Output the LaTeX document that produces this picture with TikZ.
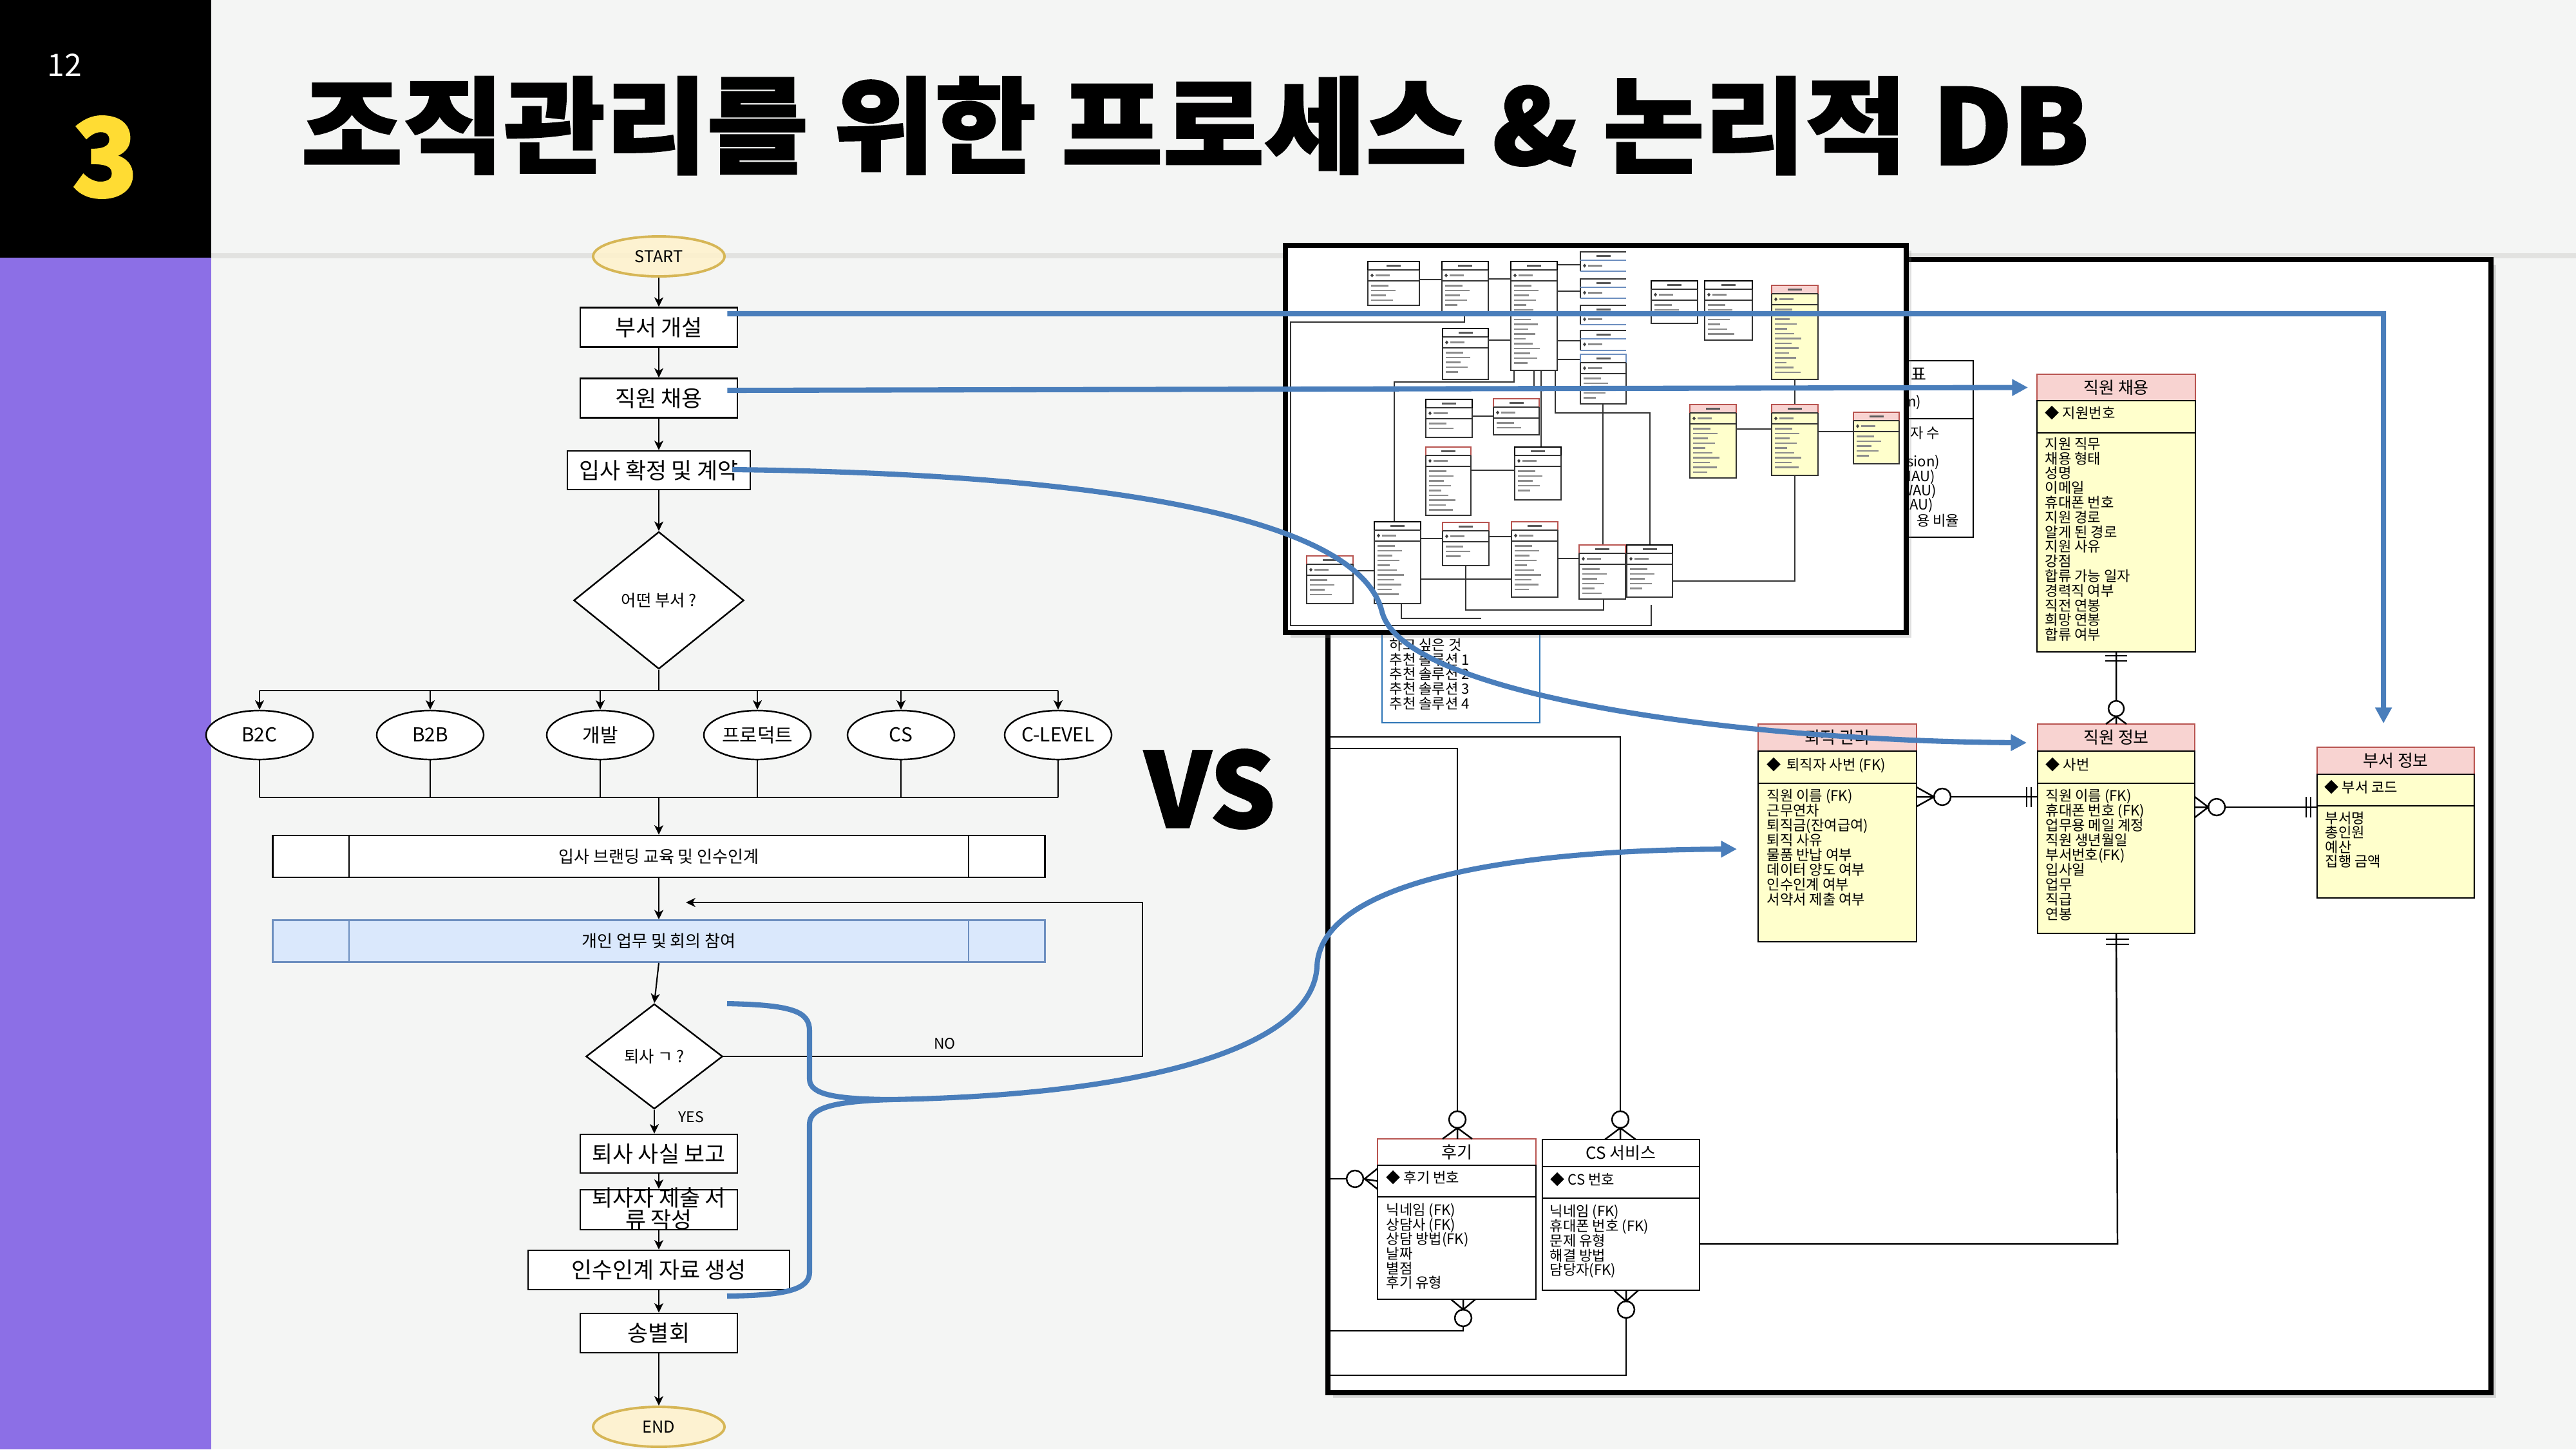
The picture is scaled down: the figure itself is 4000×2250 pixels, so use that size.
\documentclass[tikz,border=0pt]{standalone}
\usepackage{fontspec}
\usepackage{graphicx}
\usetikzlibrary{shapes.geometric,arrows.meta,shadows,calc}
\newfontfamily\kr{Noto Sans CJK KR}
\newfontfamily\krheavy{Noto Sans CJK KR}[FakeBold=1.6]
\definecolor{bg}{HTML}{F4F5F4}
\definecolor{purp}{HTML}{8C6FE6}
\definecolor{yel}{HTML}{FFDC33}
\definecolor{divgray}{HTML}{E2E2E0}
\definecolor{bluearr}{HTML}{4A7EBB}
\definecolor{dioyf}{HTML}{FFF2CC}
\definecolor{dioyd}{HTML}{D6B656}
\definecolor{diobf}{HTML}{DAE8FC}
\definecolor{diobd}{HTML}{6C8EBF}
\definecolor{erdpink}{HTML}{F8D3D1}
\definecolor{erdred}{HTML}{B85450}
\definecolor{erdyel}{HTML}{FFFFCC}
\definecolor{boxblue}{HTML}{2E75B6}
\newcommand\pxf[1]{\fontsize{#1}{#1}\selectfont}

\tikzset{
  fline/.style={line width=0.6pt},
  farr/.style={line width=0.6pt,-{Stealth[length=4.2pt,width=4pt,inset=1.2pt]}},
  fbox/.style={draw,line width=0.7pt,fill=white,inner sep=0pt,minimum width=2.44cm,minimum height=0.61cm,font={\kr\pxf{9.9pt}}},
  oval/.style={ellipse,draw,line width=0.7pt,fill=white,inner sep=0pt,minimum width=1.66cm,minimum height=0.76cm,font={\kr\pxf{8.5pt}}},
  term/.style={ellipse,draw=dioyd,line width=1.1pt,fill=dioyf,fill opacity=0.85,text opacity=1,inner sep=0pt,minimum width=2.04cm,minimum height=0.62cm,font={\kr\pxf{7.2pt}}},
  dec/.style={diamond,draw,line width=0.7pt,fill=white,inner sep=0pt,font={\kr\pxf{7.2pt}}},
  pbox/.style={draw,line width=0.7pt,inner sep=0pt,minimum width=11.98cm,minimum height=0.65cm,font={\kr\pxf{7.4pt}}},
  lbl/.style={inner sep=0pt,font={\kr\pxf{6.5pt}}},
  ebox/.style={draw,line width=0.7pt,anchor=north west,inner sep=0pt,outer sep=0pt},
  ehd/.style={ebox,font={\kr\pxf{7.4pt}}},
  attr/.style={anchor=west,inner sep=0pt,font={\kr\pxf{6.3pt}},text height=5pt,text depth=1.4pt},
  el/.style={line width=0.7pt},
  blarr/.style={draw=bluearr,line width=2.3pt,-{Triangle[length=7pt,width=7pt]}},
  blline/.style={draw=bluearr,line width=2.3pt},
  mline/.style={line width=0.4pt,draw=black!80},
  mtxt/.style={line width=0.6pt,draw=black!45},
}

% mini entity: x1 y1 x2 y2 headerfill bodyfill headerdraw
\newcommand\erdmini[7]{%
  \fill[#6] (#1,#2) rectangle (#3,#4);
  \fill[#5] (#1,#2) rectangle (#3,#2+13);
  \draw[mline] (#1,#2) rectangle (#3,#4);
  \draw[mline,draw=#7] (#1,#2+13) -- (#1,#2) -- (#3,#2) -- (#3,#2+13);
  \draw[mline] (#1,#2+13) -- (#3,#2+13) (#1,#2+30) -- (#3,#2+30);
  \draw[mtxt,draw=black!65] ({(#1+#3)/2-11},#2+6.5) -- ({(#1+#3)/2+11},#2+6.5);
  \fill[black!75] (#1+4,#2+21.5) -- (#1+6.5,#2+18.5) -- (#1+9,#2+21.5) -- (#1+6.5,#2+24.5) -- cycle;
  \draw[mtxt] (#1+12,#2+21.5) -- (#1+34,#2+21.5);
  \pgfmathtruncatemacro\mnr{(#4-#2-38)/7.5}%
  \ifnum\mnr>0
    \foreach \k in {1,...,\mnr}{%
      \pgfmathsetmacro\mlen{16+mod(\k*11,26)}%
      \draw[mtxt] (#1+5,{#2+30+7.5*\k}) -- ++(\mlen,0);}%
  \fi
}
% mini blue-lined box: x1 y1 x2 y2
\newcommand\erdminiblue[4]{%
  \fill[white] (#1,#2) rectangle (#3,#4);
  \draw[mline] (#1,#4) -- (#1,#2) -- (#3,#2);
  \draw[mline,draw=diobd] (#1,#2+13) -- (#3,#2+13) (#1,#4) -- (#3,#4);
  \draw[mtxt,draw=black!65] ({(#1+#3)/2-11},#2+6.5) -- ({(#1+#3)/2+11},#2+6.5);
  \fill[black!75] (#1+4,#2+21.5) -- (#1+6.5,#2+18.5) -- (#1+9,#2+21.5) -- (#1+6.5,#2+24.5) -- cycle;
  \draw[mtxt] (#1+12,#2+21.5) -- (#1+34,#2+21.5);
}

\begin{document}
\begin{tikzpicture}[x=0.01cm,y=-0.01cm]
\useasboundingbox (0,0) rectangle (4000,2250);
% ---------- slide background ----------
\fill[bg] (0,0) rectangle (4000,2250);
\fill[black] (0,0) rectangle (328,400);
\fill[purp] (0,400) rectangle (328,2250);
\fill[divgray] (328,393) rectangle (4000,401);
\node[text=white,inner sep=0pt,font={\kr\pxf{13.7pt}}] (pnum) at (100,101) {12};
\node[text=yel,inner sep=0pt,font={\krheavy\bfseries\pxf{48pt}}] (snum) at (163,244) {3};
\node[anchor=west,inner sep=0pt,font={\krheavy\bfseries\pxf{46pt}}] (title) at (467,195)
  {\scalebox{1.058}[1]{조직관리를 위한 프로세스 \& 논리적 DB}};

% ---------- flowchart ----------
\node[term] (start) at (1023,398) {START};
\node[fbox] (b1) at (1023,508) {부서 개설};
\node[fbox] (b2) at (1023,618) {직원 채용};
\node[fbox,minimum width=2.84cm,minimum height=0.60cm] (b3) at (1023,730) {입사 확정 및 계약};
\node[dec,minimum width=2.64cm,minimum height=2.13cm] (d1) at (1023,932) {어떤 부서 ?};
\node[oval] (e1) at (403,1141) {B2C};
\node[oval] (e2) at (668,1141) {B2B};
\node[oval] (e3) at (932,1141) {개발};
\node[oval] (e4) at (1176,1141) {프로덕트};
\node[oval] (e5) at (1399,1141) {CS};
\node[oval] (e6) at (1643,1141) {C-LEVEL};
\coordinate (br) at (1023,1072);
\coordinate (mg) at (1023,1238);
\node[pbox,fill=white] (p1) at (1023,1329.5) {입사 브랜딩 교육 및 인수인계};
\node[pbox,fill=diobf,draw=diobd] (p2) at (1023,1461) {개인 업무 및 회의 참여};
\draw[fline] ($(p1.north west)+(120,0)$) -- ($(p1.south west)+(120,0)$);
\draw[fline] ($(p1.north east)+(-120,0)$) -- ($(p1.south east)+(-120,0)$);
\draw[fline,draw=diobd] ($(p2.north west)+(120,0)$) -- ($(p2.south west)+(120,0)$);
\draw[fline,draw=diobd] ($(p2.north east)+(-120,0)$) -- ($(p2.south east)+(-120,0)$);
\node[dec,minimum width=2.12cm,minimum height=1.63cm] (d2) at (1016,1640) {퇴사 ㄱ ?};
\node[fbox,minimum height=0.60cm] (b4) at (1023,1791) {퇴사 사실 보고};
\node[fbox,minimum height=0.62cm] (b5) at (1023,1878) {};
\node[inner sep=0pt,align=center,font={\kr\fontsize{9.9pt}{9.7pt}\selectfont}] (b5t) at (1023,1876) {퇴사자 제출 서\\류 작성};
\node[fbox,minimum width=4.06cm] (b6) at (1023,1971.5) {인수인계 자료 생성};
\node[fbox] (b7) at (1023,2069.5) {송별회};
\node[term] (end) at (1023,2215) {END};

\draw[farr] (start) -- (b1);
\draw[farr] (b1) -- (b2);
\draw[farr] (b2) -- (b3);
\draw[farr] (b3) -- (d1);
\draw[fline] (d1.south) -- (br);
\draw[fline] (e1 |- br) -- (e6 |- br);
\foreach \e in {e1,e2,e3,e4,e5,e6}{
  \draw[farr] (\e |- br) -- (\e.north);
  \draw[fline] (\e.south) -- (\e |- mg);
}
\draw[fline] (e1 |- mg) -- (e6 |- mg);
\draw[farr] (mg) -- (p1.north);
\draw[farr] (p1.south) -- (p2.north);
\draw[farr] (p2.south) -- (d2.north);
\coordinate (lpA) at (1774,1640);
\coordinate (lpB) at (1774,1401);
\coordinate (lpE) at (1065,1401);
\draw[farr] (d2.east) -- (lpA) -- (lpB) -- (lpE);
\node[lbl] (nolbl) at (1467,1620) {NO};
\draw[farr] (d2.south) -- (d2.south |- b4.north);
\node[lbl] (yeslbl) at (1073,1734) {YES};
\draw[farr] (b4) -- (b5);
\draw[farr] (b5) -- (b6);
\draw[farr] (b6) -- (b7);
\draw[farr] (b7) -- (end);

% ---------- VS ----------
\node[inner sep=0pt,font={\krheavy\bfseries\pxf{45.5pt}}] (vs) at (1879,1225) {VS};

% ---------- big ERD frame ----------
\filldraw[fill=white,draw=black,line width=2.3pt,drop shadow={opacity=0.25,shadow xshift=0.08cm,shadow yshift=-0.08cm}] (2062,403) rectangle (3868,2162);

% partially hidden statistics box
\filldraw[fill=white,el] (2900,560) rectangle (3064,834);
\draw[el] (2900,650) -- (3064,650);
\node[anchor=east,inner sep=0pt,font={\kr\pxf{7.4pt}}] (st1) at (2992,581) {표};
\node[anchor=east,inner sep=0pt,font={\kr\pxf{6.3pt}}] (st2) at (2984,625) {m)};
\node[anchor=east,inner sep=0pt,font={\kr\pxf{6.3pt}}] (st3) at (3013,672) {자 수};
\node[anchor=east,inner sep=0pt,font={\kr\pxf{6.3pt}}] (st4) at (3013,718) {sion)};
\node[anchor=east,inner sep=0pt,font={\kr\pxf{6.3pt}}] (st5) at (3006,741) {MAU)};
\node[anchor=east,inner sep=0pt,font={\kr\pxf{6.3pt}}] (st6) at (3008,763) {WAU)};
\node[anchor=east,inner sep=0pt,font={\kr\pxf{6.3pt}}] (st7) at (3003,785) {DAU)};
\node[anchor=east,inner sep=0pt,font={\kr\pxf{6.3pt}}] (st8) at (3043,808) {용 비율};

% recommendation box (top hidden)
\draw[draw=boxblue,line width=0.5pt] (2146,930) rectangle (2391,1122);
\foreach \txt [count=\i] in {하고 싶은 것,추천 솔루션 1,추천 솔루션 2,추천 솔루션 3,추천 솔루션 4}
  \node[attr] at (2157,{1003+22.8*(\i-1)}) {\txt};

% connector lines from the left edge
\draw[el] (2066,1144) -- (2516,1144) -- (2516,1725);
\draw[el] (2066,1162) -- (2263,1162) -- (2263,1725);

% 직원 채용
\node[ehd,fill=erdpink,draw=erdred,minimum width=2.46cm,minimum height=0.41cm] (jcH) at (3163,581) {직원 채용};
\node[ebox,fill=erdyel,minimum width=2.46cm,minimum height=0.50cm] (jcK) at (3163,622) {};
\node[ebox,fill=erdyel,minimum width=2.46cm,minimum height=3.40cm] (jcB) at (3163,672) {};
\node[attr] (jcPK) at (3175,643) {◆ 지원번호};
\foreach \txt [count=\i] in {지원 직무,채용 형태,성명,이메일,휴대폰 번호,지원 경로,알게 된 경로,지원 사유,강점,합류 가능 일자,경력직 여부,직전 연봉,희망 연봉,합류 여부}
  \node[attr] at (3175,{691+22.8*(\i-1)}) {\txt};

% 퇴직 관리
\node[ehd,fill=erdpink,draw=erdred,minimum width=2.46cm,minimum height=0.42cm] (tjH) at (2730,1124) {퇴직 관리};
\node[ebox,fill=erdyel,minimum width=2.46cm,minimum height=0.50cm] (tjK) at (2730,1166) {};
\node[ebox,fill=erdyel,minimum width=2.46cm,minimum height=2.46cm] (tjB) at (2730,1216) {};
\node[attr] (tjPK) at (2743,1189) {◆\, 퇴직자 사번 (FK)};
\foreach \txt [count=\i] in {직원 이름 (FK),근무연차,퇴직금(잔여급여),퇴직 사유,물품 반납 여부,데이터 양도 여부,인수인계 여부,서약서 제출 여부}
  \node[attr] at (2743,{1237+23*(\i-1)}) {\txt};

% 직원 정보
\node[ehd,fill=erdpink,draw=erdred,minimum width=2.44cm,minimum height=0.42cm] (jiH) at (3164,1124) {직원 정보};
\node[ebox,fill=erdyel,minimum width=2.44cm,minimum height=0.50cm] (jiK) at (3164,1166) {};
\node[ebox,fill=erdyel,minimum width=2.44cm,minimum height=2.33cm] (jiB) at (3164,1216) {};
\node[attr] (jiPK) at (3176,1189) {◆ 사번};
\foreach \txt [count=\i] in {직원 이름 (FK),휴대폰 번호 (FK),업무용 메일 계정,직원 생년월일,부서번호(FK),입사일,업무,직급,연봉}
  \node[attr] at (3176,{1237+23*(\i-1)}) {\txt};

% 부서 정보
\node[ehd,fill=erdpink,draw=erdred,minimum width=2.44cm,minimum height=0.42cm] (bsH) at (3598,1160) {부서 정보};
\node[ebox,fill=erdyel,minimum width=2.44cm,minimum height=0.49cm] (bsK) at (3598,1202) {};
\node[ebox,fill=erdyel,minimum width=2.44cm,minimum height=1.43cm] (bsB) at (3598,1251) {};
\node[attr] (bsPK) at (3609,1224) {◆ 부서 코드};
\foreach \txt [count=\i] in {부서명,총인원,예산,집행 금액}
  \node[attr] at (3610,{1272+22.5*(\i-1)}) {\txt};

% 후기
\node[ehd,fill=white,draw=erdred,minimum width=2.46cm,minimum height=0.41cm] (hgH) at (2139,1768) {후기};
\node[ebox,fill=white,minimum width=2.46cm,minimum height=0.49cm] (hgK) at (2139,1809) {};
\node[ebox,fill=white,minimum width=2.46cm,minimum height=1.59cm] (hgB) at (2139,1858) {};
\node[attr] (hgPK) at (2152,1830) {◆ 후기 번호};
\foreach \txt [count=\i] in {닉네임 (FK),상담사 (FK),상담 방법(FK),날짜,별점,후기 유형}
  \node[attr] at (2152,{1880+22.7*(\i-1)}) {\txt};

% CS 서비스
\node[ehd,fill=white,minimum width=2.44cm,minimum height=0.42cm] (csH) at (2395,1769) {CS 서비스};
\node[ebox,fill=white,minimum width=2.44cm,minimum height=0.49cm] (csK) at (2395,1811) {};
\node[ebox,fill=white,minimum width=2.44cm,minimum height=1.43cm] (csB) at (2395,1860) {};
\node[attr] (csPK) at (2407,1833) {◆ CS 번호};
\foreach \txt [count=\i] in {닉네임 (FK),휴대폰 번호 (FK),문제 유형,해결 방법,담당자(FK)}
  \node[attr] at (2406,{1882+22.9*(\i-1)}) {\txt};

% ERD relationship symbols
% 후기 top
\draw[el] (2263,1738) circle[radius=0.13cm];
\draw[el] (2263,1751) -- (2263,1768) (2240,1768) -- (2263,1751) -- (2286,1768);
% CS top
\draw[el] (2516,1738) circle[radius=0.13cm];
\draw[el] (2516,1751) -- (2516,1769) (2492,1769) -- (2516,1751) -- (2540,1769);
% 후기 left
\draw[el] (2066,1830) -- (2091,1830);
\draw[el] (2104,1830) circle[radius=0.13cm];
\draw[el] (2117,1830) -- (hgK.west) (2139,1814) -- (2119,1830) -- (2139,1846);
% 후기 bottom
\draw[el] (2253,2017) -- (2272,2033) -- (2291,2017) (2272,2017) -- (2272,2033);
\draw[el] (2272,2046) circle[radius=0.13cm];
\draw[el] (2272,2059) -- (2272,2066) -- (2066,2066);
% CS bottom
\draw[el] (2506,2003) -- (2525,2020) -- (2544,2003) (2525,2003) -- (2525,2020);
\draw[el] (2525,2033) circle[radius=0.13cm];
\draw[el] (2525,2046) -- (2525,2135) -- (2066,2135);
% CS -> 직원 정보
\draw[el] (2639,1931) -- (3288,1931) -- (jiB.south);
\draw[el] (3270,1458) -- (3306,1458) (3270,1466) -- (3306,1466);
% 퇴직 관리 - 직원 정보
\draw[el] (2976,1222) -- (3003,1237) -- (2976,1252) (2976,1237) -- (3003,1237);
\draw[el] (3016,1237) circle[radius=0.13cm];
\draw[el] (3029,1237) -- (3164,1237);
\draw[el] (3147,1222) -- (3147,1253) (3154,1222) -- (3154,1253);
% 직원 정보 - 부서 정보
\draw[el] (3408,1237) -- (3429,1253) -- (3408,1269) (3408,1253) -- (3429,1253);
\draw[el] (3442,1253) circle[radius=0.13cm];
\draw[el] (3455,1253) -- (3598,1253);
\draw[el] (3581,1237) -- (3581,1269) (3588,1237) -- (3588,1269);
% 직원 채용 - 직원 정보
\draw[el] (jcB.south) -- (3286,1088);
\draw[el] (3269,1018) -- (3303,1018) (3269,1026) -- (3303,1026);
\draw[el] (3286,1100) circle[radius=0.12cm];
\draw[el] (3286,1112) -- (jiH.north) (3270,1124) -- (3286,1112) -- (3302,1124);

% ---------- inset thumbnail of the whole ERD ----------
\filldraw[fill=white,draw=black,line width=2.3pt,drop shadow={opacity=0.25,shadow xshift=0.08cm,shadow yshift=-0.08cm}] (1996,381) rectangle (2960,982);
\begin{scope}
\clip (2000,385) rectangle (2956,978);
% mini connectors
\draw[mline] (2204,434) -- (2239,434) (2311,433) -- (2346,433);
\draw[mline] (2418,411) -- (2454,411) (2418,452) -- (2454,452) (2418,490) -- (2454,490) (2418,529) -- (2454,529) (2418,558) -- (2454,558);
\draw[mline] (2311,528) -- (2346,528) (2286,646) -- (2319,646) (2284,730) -- (2352,730);
\draw[mline] (2206,836) -- (2240,836) (2312,833) -- (2347,833) (2419,867) -- (2452,867) (2101,886) -- (2134,886) (2206,899) -- (2347,899);
\draw[mline] (2696,666) -- (2751,666) (2823,670) -- (2878,670) (2787,589) -- (2787,628);
\draw[mline] (2787,738) -- (2787,902) -- (2597,902);
\draw[mline] (2274,488) -- (2274,500) -- (2004,500) -- (2004,971) -- (2564,971) -- (2564,939);
\draw[mline] (2165,810) -- (2165,593) -- (2351,593) -- (2351,575);
\draw[mline] (2382,575) -- (2382,606) -- (2489,606) -- (2489,846);
\draw[mline] (2415,575) -- (2415,641) -- (2562,641) -- (2562,846);
\draw[mline] (2393,575) -- (2393,694);
\draw[mline] (2276,878) -- (2276,947) -- (2490,947) -- (2490,930);
\draw[mline] (2176,937) -- (2176,960) -- (2300,960);
% mini entities
\erdmini{2124}{406}{2204}{474}{white}{white}{black}
\erdmini{2239}{406}{2311}{488}{white}{white}{black}
\erdmini{2346}{406}{2418}{575}{white}{white}{black}
\erdminiblue{2454}{391}{2525}{421}
\erdminiblue{2454}{433}{2525}{463}
\erdminiblue{2454}{474}{2525}{504}
\erdminiblue{2454}{513}{2525}{544}
\erdmini{2454}{550}{2525}{627}{white}{white}{diobd}
\erdmini{2564}{436}{2636}{502}{white}{white}{black}
\erdmini{2647}{436}{2721}{528}{white}{white}{black}
\erdmini{2751}{443}{2823}{589}{erdpink}{erdyel}{erdred}
\erdmini{2240}{510}{2311}{589}{white}{white}{black}
\erdmini{2214}{620}{2286}{679}{white}{white}{black}
\erdmini{2319}{619}{2390}{675}{white}{white}{erdred}
\erdmini{2214}{694}{2284}{800}{white}{white}{erdred}
\erdmini{2352}{694}{2424}{776}{white}{white}{black}
\erdmini{2624}{628}{2696}{742}{erdpink}{erdyel}{erdred}
\erdmini{2751}{628}{2823}{738}{erdpink}{erdyel}{erdred}
\erdmini{2878}{640}{2949}{720}{erdpink}{erdyel}{erdred}
\erdmini{2134}{810}{2206}{937}{white}{white}{black}
\erdmini{2240}{811}{2312}{878}{white}{white}{erdred}
\erdmini{2347}{810}{2419}{927}{white}{white}{erdred}
\erdmini{2452}{846}{2524}{930}{white}{white}{erdred}
\erdmini{2526}{846}{2597}{927}{white}{white}{black}
\erdmini{2029}{863}{2101}{937}{white}{white}{erdred}
\end{scope}

% ---------- blue cross-link arrows ----------
\coordinate (a1s) at ($(b1.east)+(-17,-21)$);
\coordinate (a1c) at (3701,487);
\coordinate (a1e) at ($(bsH.north)+(-19,-37)$);
\draw[blarr] (a1s) -- (a1c) -- (a1e);
\coordinate (a2s) at ($(b2.east)+(-17,-12)$);
\coordinate (a2e) at ($(jcH.west)+(-14,0)$);
\draw[blarr] (a2s) -- (a2e);
\coordinate (a3s) at ($(b3.east)+(-29,-1)$);
\coordinate (a3m) at (2146,950);
\coordinate (a3e) at ($(jiH.west)+(-17,8)$);
\draw[blarr] (a3s) .. controls (1700,735) and (2110,800) .. (a3m) .. controls (2180,1080) and (2700,1150) .. (a3e);
% brace
\coordinate (brT) at (1129,1558);
\coordinate (brM) at (1381,1707);
\coordinate (brB) at (1129,2012);
\draw[blline] (brT) .. controls (1230,1560) and (1257,1570) .. (1257,1600) -- (1257,1675) .. controls (1257,1700) and (1300,1706) .. (brM);
\draw[blline] (brM) .. controls (1300,1710) and (1257,1718) .. (1257,1745) -- (1257,1975) .. controls (1257,2002) and (1220,2011) .. (brB);
\coordinate (a4m) at (2045,1500);
\coordinate (a4e) at ($(tjB.west)+(-33,-21)$);
\draw[blarr] (brM) .. controls (1800,1700) and (2040,1620) .. (a4m) .. controls (2050,1380) and (2300,1320) .. (a4e);
\end{tikzpicture}
\end{document}
